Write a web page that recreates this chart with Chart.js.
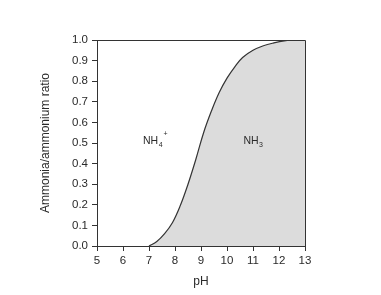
<!DOCTYPE html>
<html>
<head>
<meta charset="utf-8">
<script src="https://cdn.jsdelivr.net/npm/chart.js@4"></script>
<style>
html, body { margin: 0; padding: 0; background: #fff; }
</style>
</head>
<body>
<canvas id="chartNH3" width="381" height="295"></canvas>
<script>
// === DONNEES ===
const phValues = [7.0, 7.3, 7.6, 7.9, 8.2, 8.5, 8.8, 9.1, 9.4, 9.7, 10.0, 10.3, 10.6, 11.0, 11.4, 11.8, 12.2, 12.6, 13.0];
const ratioValues = [0, 0.022, 0.06, 0.113, 0.195, 0.30, 0.42, 0.55, 0.655, 0.745, 0.815, 0.87, 0.915, 0.95, 0.972, 0.986, 0.996, 1.0, 1.0];
const xTickLabels = ["5", "6", "7", "8", "9", "10", "11", "12", "13"];
const yTickLabels = ["0.0", "0.1", "0.2", "0.3", "0.4", "0.5", "0.6", "0.7", "0.8", "0.9", "1.0"];
const speciesNames = ["NH", "NH"];
const speciesSubs = ["4", "3"];
const speciesSups = ["+", ""];
const speciesPh = [6.77, 10.63];
const speciesRatio = [0.495, 0.495];

const FONT = "'Liberation Sans', Arial, sans-serif";
const INK = "#2a2a2a";

// cadre haut + droite
const framePlugin = {
    id: "frame",
    afterDraw(chart) {
        const a = chart.chartArea;
        const ctx = chart.ctx;
        ctx.save();
        ctx.strokeStyle = "#333";
        ctx.lineWidth = 1;
        ctx.beginPath();
        ctx.moveTo(a.left, a.top + 0.5);
        ctx.lineTo(a.right + 0.5, a.top + 0.5);
        ctx.lineTo(a.right + 0.5, a.bottom);
        ctx.stroke();
        ctx.restore();
    }
};

// NH4+ et NH3
const speciesPlugin = {
    id: "species",
    afterDraw(chart) {
        const ctx = chart.ctx;
        const xs = chart.scales.x, ys = chart.scales.y;
        ctx.save();
        ctx.fillStyle = INK;
        ctx.textBaseline = "alphabetic";
        ctx.textAlign = "left";
        for (let i = 0; i < speciesNames.length; i++) {
            let x = xs.getPixelForValue(speciesPh[i]);
            let y = ys.getPixelForValue(speciesRatio[i]);
            ctx.font = "10.5px " + FONT;
            ctx.fillText(speciesNames[i], x, y);
            let w = ctx.measureText(speciesNames[i]).width;
            ctx.font = "7px " + FONT;
            ctx.fillText(speciesSubs[i], x + w + 0.5, y + 3);
            if (speciesSups[i]) {
                let w2 = ctx.measureText(speciesSubs[i]).width;
                ctx.fillText(speciesSups[i], x + w + w2 + 1.5, y - 8);
            }
        }
        ctx.restore();
    }
};

new Chart(document.getElementById("chartNH3"), {
    type: "line",
    data: {
        datasets: [{
            data: phValues.map((p, i) => ({ x: p, y: ratioValues[i] })),
            borderColor: "#333",
            borderWidth: 1.2,
            backgroundColor: "#dcdcdc",
            fill: "origin",
            pointRadius: 0,
            tension: 0.4
        }]
    },
    options: {
        responsive: false,
        animation: false,
        devicePixelRatio: 1,
        layout: { padding: { left: 38, right: 76, top: 40, bottom: 0 } },
        plugins: { legend: { display: false }, tooltip: { enabled: false } },
        scales: {
            x: {
                type: "linear",
                min: 5,
                max: 13,
                afterFit: s => { s.height = 49; },
                grid: { drawOnChartArea: false, tickLength: 5, color: "#333" },
                border: { color: "#333", width: 1 },
                ticks: {
                    stepSize: 1,
                    padding: 3,
                    color: INK,
                    font: { family: FONT, size: 11.5 },
                    maxRotation: 0,
                    callback: v => xTickLabels[v - 5]
                },
                title: {
                    display: true,
                    text: "pH",
                    color: INK,
                    font: { family: FONT, size: 12 },
                    padding: { top: 0, bottom: 6 }
                }
            },
            y: {
                min: 0,
                max: 1,
                afterFit: s => { s.width = 59; },
                grid: { drawOnChartArea: false, tickLength: 5, color: "#333" },
                border: { color: "#333", width: 1 },
                ticks: {
                    stepSize: 0.1,
                    padding: 4,
                    color: INK,
                    font: { family: FONT, size: 11.5 },
                    callback: v => yTickLabels[Math.round(v * 10)]
                },
                title: {
                    display: true,
                    text: "Ammonia/ammonium ratio",
                    color: INK,
                    font: { family: FONT, size: 12 },
                    padding: { top: 0, bottom: 0 }
                }
            }
        }
    },
    plugins: [framePlugin, speciesPlugin]
});
</script>
</body>
</html>
